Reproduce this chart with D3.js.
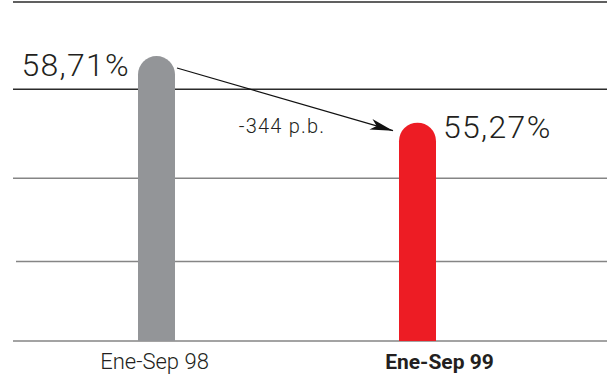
<!DOCTYPE html>
<html>
<head>
<meta charset="utf-8">
<script src="https://cdn.jsdelivr.net/npm/d3@7"></script>
<style>
  body { margin: 0; background: white; font-family: Roboto, "Open Sans", sans-serif; }
  svg { display: block; }
</style>
</head>
<body>
<svg id="chart"></svg>
<script>
// chart data
let categories = ["Ene-Sep 98", "Ene-Sep 99"]
let values = [58.71, 55.27]
let valueLabels = ["58,71%", "55,27%"]
let barColors = ["#939598", "#ed1c24"]
let gridValues = [61.5, 57, 52.4, 48.1, 44]
let changeLabel = "-344 p.b."

let width = 607, height = 376

let svg = d3.select("#chart")
  .attr("width", width)
  .attr("height", height)

// the axis does not start at 0, bars are drawn from the bottom line
let yScale = d3.scaleLinear()
  .domain([44, 61.5])
  .range([341, 2])

let xScale = d3.scalePoint()
  .domain(categories)
  .range([156.5, 417.5])

let barWidth = 37

// grid lines (top, first one and bottom are darker)
svg.selectAll(".grid")
  .data(gridValues)
  .enter().append("line")
  .attr("x1", (d, i) => i == 3 ? 16 : 13)
  .attr("x2", width)
  .attr("y1", d => yScale(d))
  .attr("y2", d => yScale(d))
  .attr("stroke", (d, i) => i < 2 ? "#2b2b2b" : "#858585")
  .attr("stroke-width", 1.5)

// bars with rounded tops
let bars = categories.map((c, i) => ({ cat: c, value: values[i], color: barColors[i], label: valueLabels[i] }))

function barPath(d) {
  let x0 = xScale(d.cat) - barWidth / 2
  let r = barWidth / 2
  let top = yScale(d.value)
  let bottom = yScale(44)
  return `M${x0},${bottom} L${x0},${top + r} A${r},${r} 0 0 1 ${x0 + barWidth},${top + r} L${x0 + barWidth},${bottom} Z`
}

svg.selectAll(".bar")
  .data(bars)
  .enter().append("path")
  .attr("class", "bar")
  .attr("d", barPath)
  .attr("fill", d => d.color)

// value labels
svg.selectAll(".value")
  .data(bars)
  .enter().append("text")
  .attr("x", (d, i) => i == 0 ? xScale(d.cat) - barWidth / 2 - 8 : xScale(d.cat) + barWidth / 2 + 7)
  .attr("y", (d, i) => yScale(d.value) + (i == 0 ? 20 : 15))
  .attr("text-anchor", (d, i) => i == 0 ? "end" : "start")
  .attr("font-size", 32)
  .attr("font-weight", 300)
  .attr("letter-spacing", 1.3)
  .attr("fill", "#231f20")
  .text(d => d.label)

// category labels
svg.selectAll(".cat")
  .data(bars)
  .enter().append("text")
  .attr("x", (d, i) => xScale(d.cat) + (i == 0 ? -2 : 22))
  .attr("y", 369)
  .attr("text-anchor", "middle")
  .attr("font-size", (d, i) => i == 1 ? 21 : 22)
  .attr("font-weight", (d, i) => i == 1 ? 700 : 300)
  .attr("fill", "#231f20")
  .text(d => d.cat)

// arrow between the two bars
svg.append("defs").append("marker")
  .attr("id", "arrowhead")
  .attr("viewBox", "0 0 23 11")
  .attr("refX", 23)
  .attr("refY", 5.5)
  .attr("markerWidth", 23)
  .attr("markerHeight", 11)
  .attr("markerUnits", "userSpaceOnUse")
  .attr("orient", "auto")
  .append("path")
  .attr("d", "M0,0 L23,5.5 L0,11 L6,5.5 Z")
  .attr("fill", "#111")

let ax1 = xScale(categories[0]) + barWidth / 2 + 2
let ay1 = yScale(values[0]) + 12
let ax2 = xScale(categories[1]) - barWidth / 2 - 6
let ay2 = yScale(values[1]) + 8

svg.append("line")
  .attr("x1", ax1).attr("y1", ay1)
  .attr("x2", ax2).attr("y2", ay2)
  .attr("stroke", "#111")
  .attr("stroke-width", 1.2)
  .attr("marker-end", "url(#arrowhead)")

svg.append("text")
  .attr("x", (ax1 + ax2) / 2 - 3)
  .attr("y", (ay1 + ay2) / 2 + 34)
  .attr("text-anchor", "middle")
  .attr("font-size", 20)
  .attr("font-weight", 300)
  .attr("letter-spacing", 1.2)
  .attr("fill", "#231f20")
  .text(changeLabel)
</script>
</body>
</html>
